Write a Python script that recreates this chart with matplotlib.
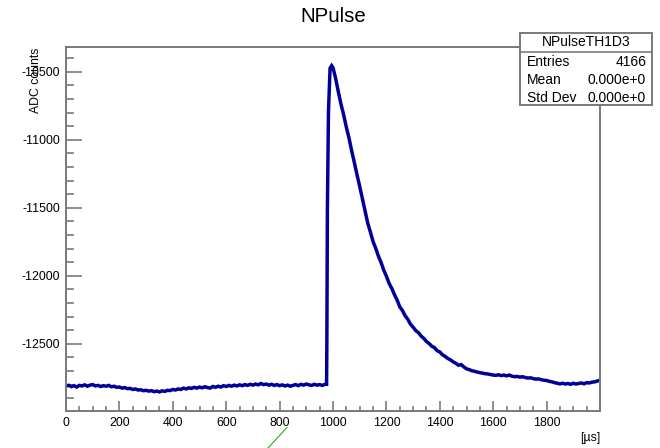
import numpy as np
import matplotlib
matplotlib.use("Agg")
import matplotlib.pyplot as plt
from matplotlib.patches import Rectangle
from matplotlib.lines import Line2D

plt.rcParams['font.family'] = ['Liberation Sans', 'DejaVu Sans']
plt.rcParams['axes.unicode_minus'] = False

# baseline before the pulse, 0..970 us every 10 us
base_t = np.arange(0, 980, 10)
base_adc = [
    -12812, -12805, -12815, -12808, -12818, -12806, -12810, -12802, -12812, -12804,
    -12800, -12810, -12806, -12814, -12808, -12812, -12806, -12816, -12812, -12820,
    -12818, -12826, -12822, -12830, -12828, -12836, -12832, -12840, -12838, -12845,
    -12842, -12848, -12845, -12852, -12848, -12854, -12846, -12850, -12842, -12844,
    -12836, -12840, -12832, -12836, -12826, -12832, -12824, -12828, -12820, -12826,
    -12818, -12824, -12816, -12822, -12826, -12814, -12820, -12812, -12818, -12808,
    -12814, -12806, -12812, -12804, -12810, -12802, -12808, -12800, -12806, -12798,
    -12804, -12796, -12802, -12792, -12800, -12796, -12804, -12798, -12806, -12800,
    -12808, -12802, -12810, -12804, -12812, -12806, -12800, -12808, -12798, -12804,
    -12796, -12802, -12806, -12798, -12804, -12800, -12806, -12798,
]

# rising edge
rise_t = [976, 977, 979, 983, 989, 995]
rise_adc = [-12798, -12494, -11505, -10797, -10473, -10455]

# decay, 1000..2000 us every 10 us
decay_t = np.arange(1000, 2010, 10)
decay_adc = [
    -10470, -10550, -10648, -10738, -10818, -10908, -10988, -11082, -11168, -11258,
    -11343, -11432, -11518, -11612, -11678, -11748, -11798, -11855, -11902, -11958,
    -12003, -12055, -12092, -12138, -12178, -12228, -12255, -12293, -12320, -12355,
    -12378, -12403, -12418, -12443, -12460, -12483, -12498, -12518, -12528, -12551,
    -12560, -12581, -12593, -12608, -12618, -12633, -12643, -12658, -12653, -12670,
    -12684, -12690, -12698, -12702, -12708, -12712, -12716, -12720, -12722, -12726,
    -12730, -12732, -12728, -12734, -12730, -12736, -12730, -12738, -12742, -12740,
    -12745, -12742, -12748, -12752, -12750, -12756, -12760, -12758, -12764, -12768,
    -12770, -12776, -12780, -12786, -12790, -12795, -12790, -12796, -12792, -12798,
    -12790, -12796, -12792, -12788, -12794, -12786, -12788, -12782, -12780, -12774,
    -12768,
]

t = np.concatenate([base_t, rise_t, decay_t])
adc = np.concatenate([base_adc, rise_adc, decay_adc])

W, H = 660, 448
fig = plt.figure(figsize=(6.6, 4.48), dpi=100)
ax = fig.add_axes([66 / W, 1 - 410.7 / H, 534 / W, 363.4 / H])

ax.plot(t, adc, color='#000099', lw=2.5, solid_joinstyle='miter')

ax.set_xlim(0, 2000)
ax.set_ylim(-12992, -10320)
ax.set_xticks(np.arange(0, 2000, 200))
ax.set_xticks(np.arange(0, 2001, 50), minor=True)
ax.set_yticks(np.arange(-12500, -10400, 500))
ax.set_yticks(np.arange(-12900, -10300, 100), minor=True)

grey = '#7a7a7a'
for s in ax.spines.values():
    s.set_color(grey)
    s.set_linewidth(1.4)
ax.tick_params(axis='x', which='major', direction='in', length=7.5, width=1.2,
               color=grey, labelsize=8.9, pad=4.5)
ax.tick_params(axis='x', which='minor', direction='in', length=3.8, width=1.2, color=grey)
ax.tick_params(axis='y', which='major', direction='in', length=11.5, width=1.2,
               color=grey, labelsize=8.9, pad=4.3)
ax.tick_params(axis='y', which='minor', direction='in', length=5.8, width=1.2, color=grey)

fig.text(333 / W, 1 - 17 / H, 'NPulse', ha='center', va='center', fontsize=14.7)
fig.text(36 / W, 1 - 47.5 / H, 'ADC counts', rotation=90, ha='center', va='top', fontsize=8.8)
fig.text(600 / W, 1 - 438 / H, '[µs]', ha='right', va='center', fontsize=8.9)

# stats box
bx0, bx1, by0, by1 = 520, 652, 32.7, 105
fig.add_artist(Rectangle((bx0 / W, 1 - by1 / H), (bx1 - bx0) / W, (by1 - by0) / H,
                         transform=fig.transFigure, facecolor='white',
                         edgecolor=grey, lw=1.4, zorder=5))
fig.add_artist(Line2D([bx0 / W, bx1 / W], [1 - 52.3 / H, 1 - 52.3 / H],
                      transform=fig.transFigure, color=grey, lw=1.2, zorder=6))
fig.text(586 / W, 1 - 42.5 / H, 'NPulseTH1D3', ha='center', va='center', fontsize=10, zorder=7)
stat_names = ['Entries', 'Mean', 'Std Dev']
stat_values = ['4166', '0.000e+0', '0.000e+0']
for i, (n, v) in enumerate(zip(stat_names, stat_values)):
    yy = 1 - (61.5 + 18.5 * i) / H
    fig.text(527 / W, yy, n, ha='left', va='center', fontsize=10, zorder=7)
    fig.text(646 / W, yy, v, ha='right', va='center', fontsize=10, zorder=7)

# stray green stroke at the bottom
fig.add_artist(Line2D([287 / W, 268 / W], [1 - 427.5 / H, 1 - 448 / H],
                      transform=fig.transFigure, color='#22aa22', lw=0.8))

fig.savefig('out.png', dpi=100)
